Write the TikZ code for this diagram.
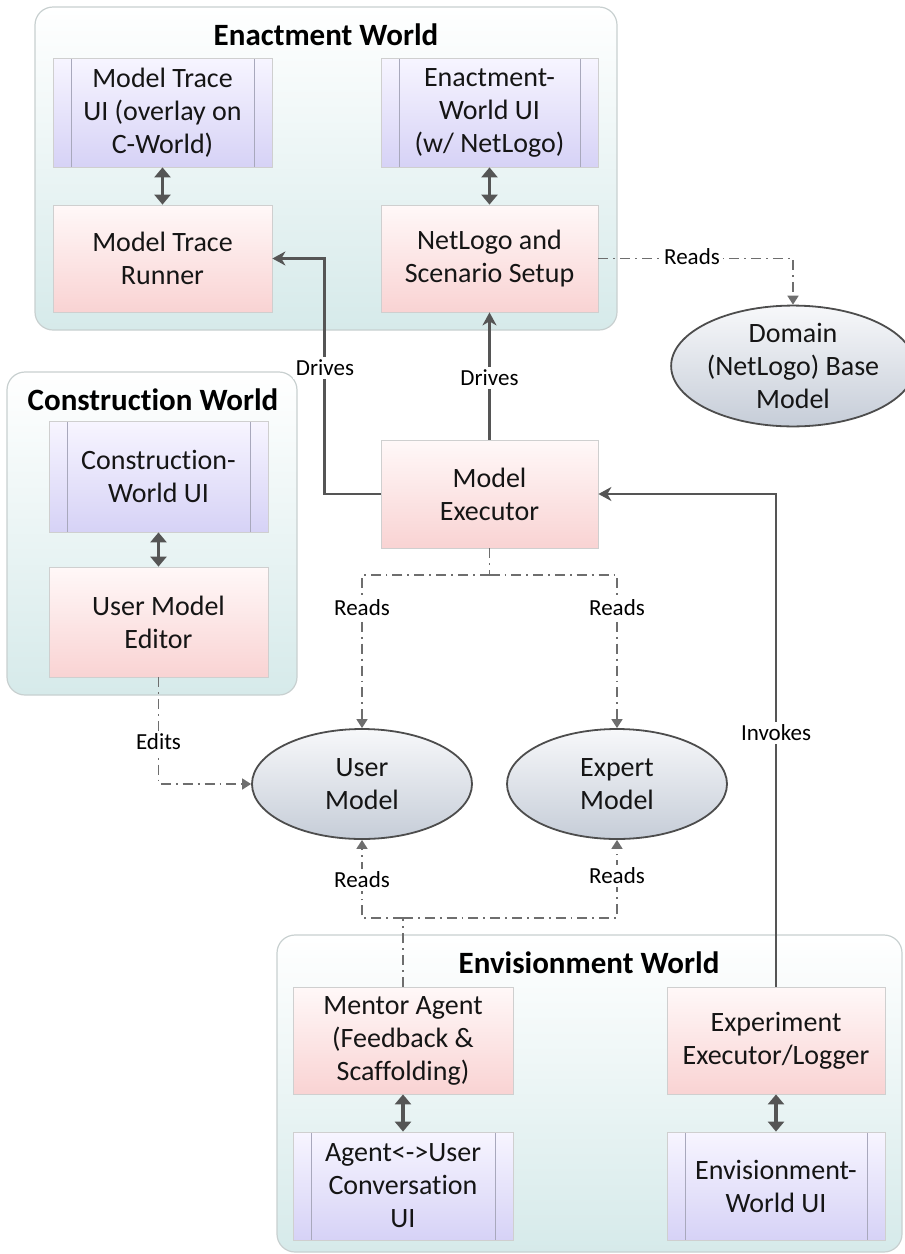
\documentclass[tikz,border=0pt]{standalone}
\usepackage{fontspec}
\setmainfont{Carlito}[Ligatures=NoCommon]
\usetikzlibrary{arrows.meta,shapes.geometric}
\definecolor{linegray}{HTML}{555555}
\definecolor{dashgray}{HTML}{6E6E6E}
\definecolor{redtop}{HTML}{FFF8F8}
\definecolor{redbot}{HTML}{F9D3D3}
\definecolor{bluetop}{HTML}{F7F5FF}
\definecolor{bluebot}{HTML}{D6D2F6}
\definecolor{boxborder}{HTML}{CFCFCF}
\definecolor{uiline}{HTML}{A8A8BC}
\definecolor{contbot}{HTML}{D6EAEA}
\definecolor{contborder}{HTML}{C8D0D0}
\definecolor{elltop}{HTML}{F7F8FA}
\definecolor{ellbot}{HTML}{C6CDD8}
\definecolor{ellborder}{HTML}{4D4D4D}
\definecolor{txt}{HTML}{151515}
\begin{document}
\begin{tikzpicture}[x=0.5pt,y=-0.5pt,
  every node/.style={font=\fontsize{14}{16.5}\selectfont, text=txt},
  box/.style={rectangle, draw=boxborder, line width=0.4pt, align=center, inner sep=0pt},
  redbox/.style={box, top color=redtop, bottom color=redbot},
  uibox/.style={box, top color=bluetop, bottom color=bluebot,
    path picture={\draw[draw=uiline,line width=0.4pt]
      ([xshift=9pt]path picture bounding box.north west) -- ([xshift=9pt]path picture bounding box.south west)
      ([xshift=-9pt]path picture bounding box.north east) -- ([xshift=-9pt]path picture bounding box.south east);}},
  ellnode/.style={ellipse, draw=ellborder, line width=0.9pt, top color=elltop, bottom color=ellbot, align=center, inner sep=0pt},
  container/.style={draw=contborder, line width=0.6pt, rounded corners=9pt, top color=white, bottom color=contbot},
  wtitle/.style={font=\fontsize{15.5}{18}\selectfont\bfseries, text=black},
  lbl/.style={font=\fontsize{11.5}{13}\selectfont, fill=white, inner sep=1.5pt, text=black},
  arr/.style={draw=linegray, line width=1.2pt, -{Stealth[width=7pt,length=6.5pt,inset=2pt]}},
  dbl/.style={draw=linegray, line width=1.8pt, {Triangle[width=8pt,length=5pt]}-{Triangle[width=8pt,length=5pt]}},
  dd/.style={draw=dashgray, line width=0.85pt, dash pattern=on 5pt off 2.5pt on 0.9pt off 2.5pt},
  dda/.style={dd, -{Triangle[width=5.5pt,length=4.5pt]}}
]
\useasboundingbox (0,0) rectangle (905,1254);

% containers
\path[container] (35,7) rectangle (617,330);
\path[container] (7,372) rectangle (297,695);
\path[container] (277,935) rectangle (902,1252);

\node[wtitle] (tEnact) at (326,35) {Enactment World};
\node[wtitle] (tConst) at (153,400) {Construction World};
\node[wtitle] (tEnv) at (589,963) {Envisionment World};

% Enactment world
\node[uibox, minimum width=109.5pt, minimum height=54.5pt] (mtui) at (162.5,112.5) {Model Trace\\UI (overlay on\\C-World)};
\node[redbox, minimum width=109.5pt, minimum height=53.5pt] (mtr) at (162.5,258.5) {Model Trace\\Runner};
\node[uibox, minimum width=108.5pt, minimum height=54.5pt] (ewui) at (489.5,112.5) {Enactment-\\World UI\\(w/ NetLogo)};
\node[redbox, minimum width=108.5pt, minimum height=53.5pt] (nls) at (489.5,258.5) {NetLogo and\\Scenario Setup};

% Construction world
\node[uibox, minimum width=109.5pt, minimum height=55.5pt] (cwui) at (158.5,476.5) {Construction-\\World UI};
\node[redbox, minimum width=109.5pt, minimum height=55pt] (ume) at (158.5,622) {User Model\\Editor};

% Model executor
\node[redbox, minimum width=108.5pt, minimum height=54pt] (me) at (489.5,494) {Model\\Executor};

% Ellipses
\node[ellnode, minimum width=109pt, minimum height=56pt] (dom) at (793,366) {Domain\\(NetLogo) Base\\Model};
\node[ellnode, minimum width=110pt, minimum height=55pt] (um) at (362,784) {User\\Model};
\node[ellnode, minimum width=110pt, minimum height=55pt] (em) at (617,784) {Expert\\Model};

% Envisionment world
\node[redbox, minimum width=110pt, minimum height=53.5pt] (mentor) at (403,1040.5) {Mentor Agent\\(Feedback \&\\Scaffolding)};
\node[uibox, minimum width=110pt, minimum height=54pt] (auui) at (403,1186) {Agent<->User\\Conversation\\UI};
\node[redbox, minimum width=109pt, minimum height=53.5pt] (exp) at (776,1040.5) {Experiment\\Executor/Logger};
\node[uibox, minimum width=109pt, minimum height=54pt] (envui) at (776,1186) {Envisionment-\\World UI};

% double arrows
\draw[dbl] (mtui.south) -- (mtr.north);
\draw[dbl] (ewui.south) -- (nls.north);
\draw[dbl] (cwui.south) -- (ume.north);
\draw[dbl] (mentor.south) -- (auui.north);
\draw[dbl] (exp.south) -- (envui.north);

% solid connectors
\draw[arr] (me.west) -- ++(-56,0) |- (mtr.east);
\draw[arr] (me.north) -- (nls.south);
\draw[arr] (exp.north) |- (me.east);

% dash-dot connectors
\draw[dda] (nls.east) -| (dom.north);
\coordinate (rsplit) at (489.5,575);
\draw[dd] (me.south) -- (rsplit);
\draw[dda] (rsplit) -| (um.north);
\draw[dda] (rsplit) -| (em.north);
\draw[dda] (ume.south) |- (um.west);
\coordinate (bsplit) at (403,918);
\draw[dd] (mentor.north) -- (bsplit);
\draw[dda] (bsplit) -| (um.south);
\draw[dda] (bsplit) -| (em.south);

% labels
\node[lbl] (lDrives1) at (325,368) {Drives};
\node[lbl] (lDrives2) at (489.5,378) {Drives};
\node[lbl] (lReadsDom) at (692,257) {Reads};
\node[lbl] (lInvokes) at (776,733) {Invokes};
\node[lbl] (lReadsU) at (362,608) {Reads};
\node[lbl] (lReadsE) at (617,608) {Reads};
\node[lbl] (lEdits) at (158.5,742) {Edits};
\node[lbl] (lReadsU2) at (362,880) {Reads};
\node[lbl] (lReadsE2) at (617,876) {Reads};
\end{tikzpicture}
\end{document}
